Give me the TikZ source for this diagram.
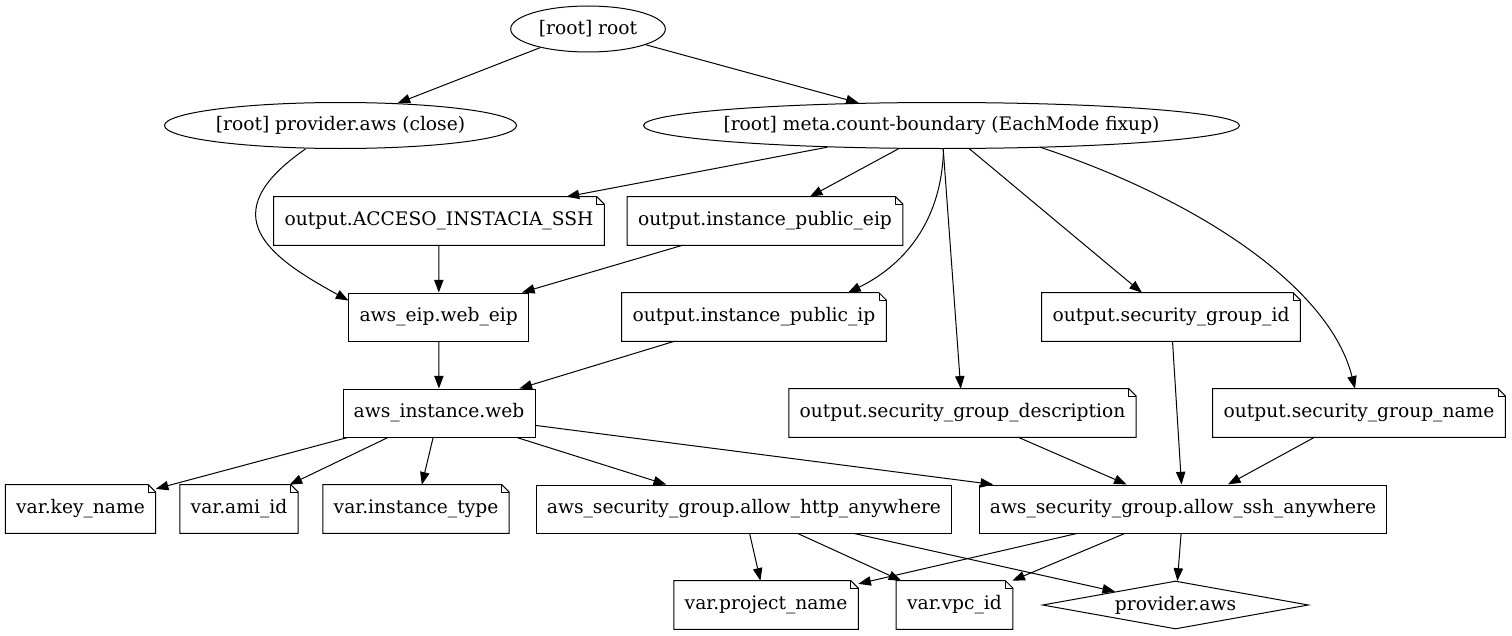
\documentclass[tikz,border=0pt]{standalone}
\usepackage{fontspec}
\setmainfont{DejaVu Serif}
\usetikzlibrary{calc, arrows.meta, shapes.geometric}

\tikzset{
    box/.style={draw, rectangle, line width=0.75pt, minimum height=36pt,
        inner xsep=8pt, inner ysep=0pt},
    notebox/.style={rectangle, minimum height=36pt, inner xsep=8pt, inner ysep=0pt},
    oval/.style={draw, ellipse, line width=0.75pt, inner sep=0pt, minimum height=34.5pt},
    arr/.style={-{Triangle[length=9.5pt,width=7pt]}, line width=0.75pt},
}

\begin{document}
\begin{tikzpicture}[x=0.75pt, y=-0.75pt, font=\fontsize{14}{16}\selectfont]
    \useasboundingbox (0,0) rectangle (1512,635);

    \node[oval, minimum width=116pt] (root) at (588,29) {\makebox[0pt]{[root] root}};
    \node[oval, minimum width=264pt] (provclose) at (340.5,125.5)
        {\makebox[0pt]{[root] provider.aws (close)}};
    \node[oval, minimum width=447pt] (meta) at (941.5,125.5)
        {\makebox[0pt]{[root] meta.count-boundary (EachMode fixup)}};

    \node[notebox] (acceso) at (439,221) {output.ACCESO\_INSTACIA\_SSH};
    \node[notebox] (pubeip) at (765,221) {output.instance\_public\_eip};

    \node[box] (eip) at (438.7,317) {aws\_eip.web\_eip};
    \node[notebox] (pubip) at (754,317) {output.instance\_public\_ip};
    \node[notebox] (sgid) at (1171,317) {output.security\_group\_id};

    \node[box] (instance) at (439,413) {aws\_instance.web};
    \node[notebox] (sgdesc) at (962.5,413) {output.security\_group\_description};
    \node[notebox] (sgname) at (1359,413) {output.security\_group\_name};

    \node[notebox] (keyname) at (80.5,509) {var.key\_name};
    \node[notebox] (amiid) at (239,509) {var.ami\_id};
    \node[notebox] (insttype) at (416,509) {var.instance\_type};
    \node[box] (http) at (744,509) {aws\_security\_group.allow\_http\_anywhere};
    \node[box] (ssh) at (1183,509) {aws\_security\_group.allow\_ssh\_anywhere};

    \node[notebox] (project) at (766,605) {var.project\_name};
    \node[notebox] (vpc) at (954.5,605) {var.vpc\_id};
    \node[draw, diamond, aspect=5.54, inner sep=0pt, minimum width=199.5pt,
        minimum height=36pt, line width=0.75pt] (provider) at (1175.5,605) {provider.aws};

    % note outlines with folded corner
    \foreach \n in {acceso, pubeip, pubip, sgid, sgdesc, sgname,
                    keyname, amiid, insttype, project, vpc} {
        \draw[line width=0.75pt] (\n.south west) -- (\n.north west)
            -- ([xshift=-5.5pt]\n.north east) -- ([yshift=-5.5pt]\n.north east)
            -- (\n.south east) -- cycle;
        \draw[line width=0.75pt] ([xshift=-5.5pt]\n.north east)
            -- ([xshift=-5.5pt,yshift=-5.5pt]\n.north east)
            -- ([yshift=-5.5pt]\n.north east);
    }

    \draw[arr] (root) -- (provclose);
    \draw[arr] (root) -- (meta);

    \draw[arr] ($(provclose.south)+(-35,0)$) .. controls (210,215) and (269,257)
        .. ($(eip.north west)+(0,8)$);

    \draw[arr] (meta) -- (acceso);
    \draw[arr] (meta) -- (pubeip);
    \draw[arr] ($(meta.south)+(2,0)$) .. controls (942,215) and (910,262)
        .. ($(pubip.north)+(94,0)$);
    \draw[arr] (meta) -- (sgdesc);
    \draw[arr] (meta) -- (sgid);
    \draw[arr] ($(meta.center)+(98.5,21.7)$) .. controls (1200,200) and (1330,288)
        .. ($(sgname.north)+(-4,0)$);

    \draw[arr] (acceso) -- (eip);
    \draw[arr] (pubeip) -- (eip);
    \draw[arr] (eip) -- (instance);
    \draw[arr] (pubip) -- (instance);

    \draw[arr] (instance) -- (keyname);
    \draw[arr] (instance) -- (amiid);
    \draw[arr] (instance) -- (insttype);
    \draw[arr] (instance) -- (http);
    \draw[arr] (instance) -- (ssh);

    \draw[arr] (sgdesc) -- (ssh);
    \draw[arr] (sgid) -- (ssh);
    \draw[arr] (sgname) -- (ssh);

    \draw[arr] (http) -- (project);
    \draw[arr] (http) -- (vpc);
    \draw[arr] (http) -- (provider);
    \draw[arr] (ssh) -- (project);
    \draw[arr] (ssh) -- (vpc);
    \draw[arr] (ssh) -- (provider);
\end{tikzpicture}
\end{document}
